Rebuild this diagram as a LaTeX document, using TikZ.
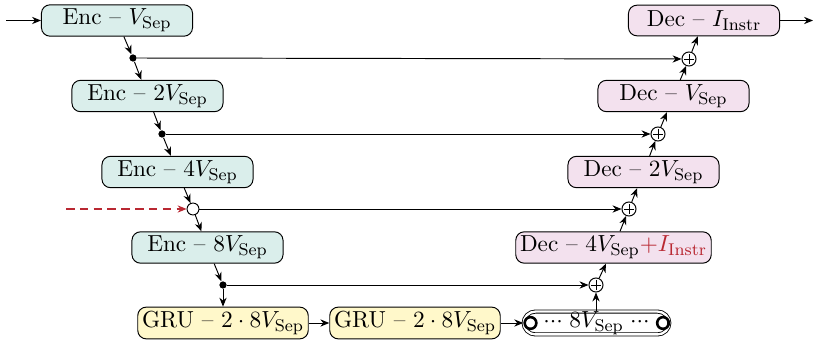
\documentclass[tikz,border=0pt]{standalone}
\usetikzlibrary{arrows.meta}
\definecolor{encfill}{RGB}{218,238,235}
\definecolor{decfill}{RGB}{243,225,238}
\definecolor{grufill}{RGB}{255,248,202}
\definecolor{darkred}{RGB}{185,40,50}
\newcommand{\Sep}{_{\mathrm{Sep}}}
\newcommand{\Instr}{_{\mathrm{Instr}}}
\newcommand{\threedots}{{\cdot}{\cdot}{\cdot}}
\begin{document}
\begin{tikzpicture}[x=0.47pt,y=-0.47pt,
  >={Stealth[length=4.2pt,width=3.4pt]},
  box/.style={draw, rounded corners=4pt, minimum height=14.4pt, inner sep=2pt, line width=0.45pt,
    font=\fontsize{10.9}{13}\selectfont},
  enc/.style={box, fill=encfill, minimum width=71pt},
  dec/.style={box, fill=decfill, minimum width=71pt},
  gru/.style={box, fill=grufill, minimum width=79.5pt},
  dotnode/.style={circle, fill, inner sep=0pt, minimum size=3.4pt},
  opendot/.style={circle, draw, fill=white, inner sep=0pt, minimum size=5.6pt, line width=0.45pt},
  plusnode/.style={circle, draw, fill=white, inner sep=0pt, minimum size=6.6pt, line width=0.45pt,
    path picture={\draw[line width=0.35pt] (path picture bounding box.center) ++(-2.2pt,0pt) -- ++(4.4pt,0pt);
                  \draw[line width=0.35pt] (path picture bounding box.center) ++(0pt,-2.2pt) -- ++(0pt,4.4pt);}},
  ring/.style={circle, draw, line width=1.2pt, minimum size=5.5pt, inner sep=0pt},
  chainbox/.style={draw, double, double distance=1.1pt, line width=0.4pt, rounded corners=5.5pt,
    minimum width=68.5pt, minimum height=10.5pt, inner sep=0pt, font=\fontsize{10.9}{13}\selectfont},
  conn/.style={->, line width=0.45pt}]
\useasboundingbox (0,0) rectangle (817,341);

% encoder
\node[enc] (enc1) at (117,20.5) {Enc -- $V\Sep$};
\node[enc] (enc2) at (147.5,96) {Enc -- $2V\Sep$};
\node[enc] (enc4) at (177.5,172) {Enc -- $4V\Sep$};
\node[enc] (enc8) at (207.5,247.5) {Enc -- $8V\Sep$};

\node[dotnode] (d1) at (133,58) {};
\node[dotnode] (d2) at (162,134) {};
\node[opendot] (o3) at (193,209) {};
\node[dotnode] (d4) at (223,285) {};

% bottleneck
\node[gru] (gru1) at (223,323) {GRU -- $2\cdot 8V\Sep$};
\node[gru] (gru2) at (415,323) {GRU -- $2\cdot 8V\Sep$};
\node[chainbox] (chain) at (596.5,323) {$\threedots\;8V\Sep\;\threedots$};
\node[ring] (r1) at (530.5,323) {};
\node[ring] (r2) at (663,323) {};

% decoder
\node[plusnode] (p4) at (596,285) {};
\node[dec] (dec4) at (613.5,247.5) {Dec -- $4V\Sep$\textcolor{darkred}{$+I\Instr$}};
\node[plusnode] (p3) at (629,209) {};
\node[dec] (dec2) at (643.5,172) {Dec -- $2V\Sep$};
\node[plusnode] (p2) at (658,134) {};
\node[dec] (dec1) at (673.5,96) {Dec -- $V\Sep$};
\node[plusnode] (p1) at (689,59) {};
\node[dec] (decI) at (704,20.5) {Dec -- $I\Instr$};

\coordinate (in) at (6,20.5);
\coordinate (out) at (813,20.5);
\coordinate (redin) at (66,209);

% connectors
\draw[conn] (in) -- (enc1);
\draw[conn] (enc1) -- (d1);
\draw[conn] (d1) -- (enc2);
\draw[conn] (enc2) -- (d2);
\draw[conn] (d2) -- (enc4);
\draw[conn] (enc4) -- (o3);
\draw[conn] (o3) -- (enc8);
\draw[conn] (enc8) -- (d4);
\draw[conn] (d4) -- (gru1);
\draw[conn] (gru1) -- (gru2);
\draw[conn] (gru2) -- (chain);
\draw[conn] (chain.north -| p4) -- (p4);
\draw[conn] (p4) -- (dec4);
\draw[conn] (dec4) -- (p3);
\draw[conn] (p3) -- (dec2);
\draw[conn] (dec2) -- (p2);
\draw[conn] (p2) -- (dec1);
\draw[conn] (dec1) -- (p1);
\draw[conn] (p1) -- (decI);
\draw[conn] (decI) -- (out);

% skip connections
\draw[conn] (d1) -- (p1);
\draw[conn] (d2) -- (p2);
\draw[conn] (o3) -- (p3);
\draw[conn] (d4) -- (p4);

\draw[conn, draw=darkred, line width=0.55pt, dash pattern=on 4pt off 2.5pt] (redin) -- (o3);
\end{tikzpicture}
\end{document}
